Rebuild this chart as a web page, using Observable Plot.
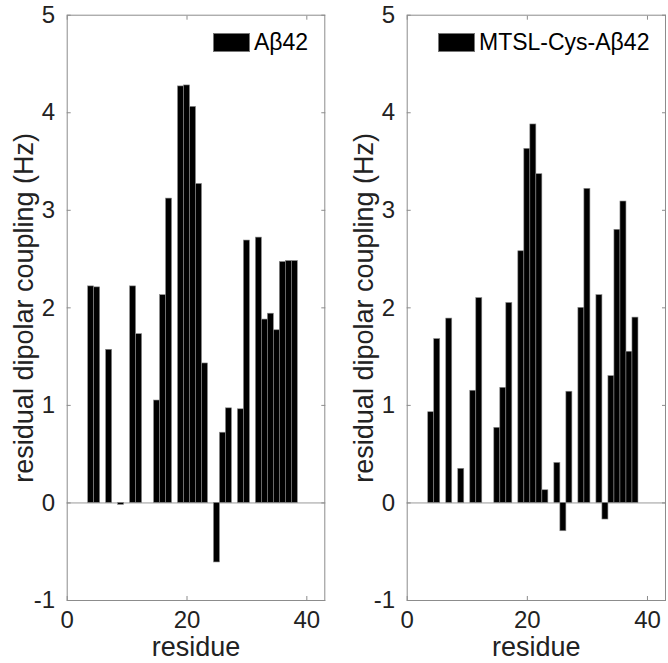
<!DOCTYPE html>
<html><head><meta charset="utf-8">
<script src="https://cdn.jsdelivr.net/npm/d3@7"></script>
<script src="https://cdn.jsdelivr.net/npm/@observablehq/plot@0.6"></script>
<style>
html,body{margin:0;padding:0;background:#fff;overflow:hidden;}
#wrap{position:relative;width:668px;height:663px;}
.panel{position:absolute;top:0;}
.legend{position:absolute;display:flex;align-items:center;font-family:"Liberation Sans",Arial,Helvetica,sans-serif;font-size:23px;color:#000;white-space:nowrap;line-height:1;}
.sw{display:inline-block;width:37px;height:19px;background:#000;border:1px solid #777;box-sizing:border-box;margin-right:4px;}
</style></head><body><div id="wrap"></div>
<script>
// ---- data ----
const residuesA = [4,5,7,9,11,12,15,16,17,19,20,21,22,23,25,26,27,29,30,32,33,34,35,36,37,38];
const rdcA      = [2.22,2.21,1.57,-0.02,2.22,1.73,1.05,2.13,3.12,4.27,4.28,4.06,3.27,1.43,-0.61,0.72,0.97,0.96,2.69,2.72,1.88,1.94,1.77,2.47,2.48,2.48];
const residuesB = [4,5,7,9,11,12,15,16,17,19,20,21,22,23,25,26,27,29,30,32,33,34,35,36,37,38];
const rdcB      = [0.93,1.68,1.89,0.35,1.15,2.10,0.77,1.18,2.05,2.58,3.63,3.88,3.37,0.13,0.41,-0.29,1.14,2.00,3.22,2.13,-0.17,1.30,2.80,3.09,1.55,1.90];
const xTicks = [0, 20, 40];
const yTicks = [-1, 0, 1, 2, 3, 4, 5];
const xDomain = [0, 43];
const yDomain = [-1, 5];
const legendA = "Aβ42";
const legendB = "MTSL-Cys-Aβ42";
const xLabel = "residue";
const yLabel = "residual dipolar coupling (Hz)";

const FONT = '"Liberation Sans", Arial, Helvetica, sans-serif';
const AXIS = "#8c8c8c";
const TXT = "#222";
const fmt = d => String(d);

function panel(res, vals, {left, width, marginLeft, marginRight, legend, legLeft, legTop}) {
  const data = res.map((r, i) => ({r, v: vals[i]}));
  const svg = Plot.plot({
    width, height: 663,
    marginLeft, marginRight, marginTop: 14.7, marginBottom: 63,
    style: {fontFamily: FONT, background: "transparent", overflow: "visible"},
    x: {domain: xDomain},
    y: {domain: yDomain},
    marks: [
      Plot.ruleY([0], {stroke: "#999", strokeWidth: 1}),
      Plot.rect(data, {x1: d => d.r - 0.5, x2: d => d.r + 0.5, y1: 0, y2: "v", fill: "#000", stroke: "#8a8a8a", strokeWidth: 0.6}),
      Plot.frame({stroke: AXIS}),
      Plot.axisX(xTicks, {anchor: "bottom", tickSize: -4, tickPadding: 14, fontSize: 24, tickFormat: fmt, label: null, stroke: AXIS, fill: TXT}),
      Plot.axisX(xTicks, {anchor: "top", tickSize: -4, tickFormat: () => "", label: null, stroke: AXIS}),
      Plot.axisY(yTicks, {anchor: "left", tickSize: -4, tickPadding: 16, fontSize: 24, tickFormat: fmt, label: null, stroke: AXIS, fill: TXT}),
      Plot.axisY(yTicks, {anchor: "right", tickSize: -4, tickFormat: () => "", label: null, stroke: AXIS}),
      Plot.text([yLabel], {text: d => d, frameAnchor: "left", textAnchor: "middle", lineAnchor: "middle", dx: -43, rotate: -90, fontSize: 27, fill: TXT}),
      Plot.text([xLabel], {text: d => d, frameAnchor: "bottom", textAnchor: "middle", lineAnchor: "middle", dy: 47, fontSize: 27, fill: TXT})
    ]
  });
  const div = document.createElement("div");
  div.className = "panel";
  div.style.left = left + "px";
  div.appendChild(svg);
  const leg = document.createElement("div");
  leg.className = "legend";
  leg.style.left = (legLeft - left) + "px";
  leg.style.top = legTop + "px";
  const sw = document.createElement("span");
  sw.className = "sw";
  const tx = document.createElement("span");
  tx.textContent = legend;
  leg.appendChild(sw); leg.appendChild(tx);
  div.appendChild(leg);
  document.getElementById("wrap").appendChild(div);
}

panel(residuesA, rdcA, {left: 0, width: 334, marginLeft: 66.7, marginRight: 9.7, legend: legendA, legLeft: 213, legTop: 31});
panel(residuesB, rdcB, {left: 334, width: 334, marginLeft: 72.7, marginRight: 3, legend: legendB, legLeft: 438, legTop: 31});
</script></body></html>
